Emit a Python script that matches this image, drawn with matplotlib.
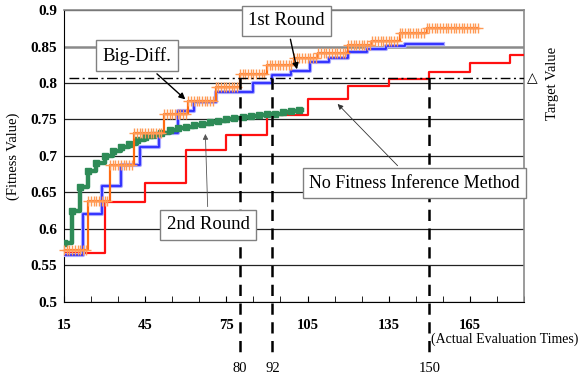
import numpy as np
import matplotlib
matplotlib.use("Agg")
import matplotlib.pyplot as plt

plt.rcParams["font.family"] = ["Liberation Serif", "DejaVu Serif"]

# step curves: (evaluation, fitness) at each step start
red_x = [15, 30, 45, 60, 75, 90, 105, 120, 135, 150, 165, 180, 185]
red_y = [0.567, 0.637, 0.663, 0.708, 0.729, 0.756, 0.778, 0.796, 0.806, 0.815, 0.828, 0.838, 0.838]

blue_x = [15, 22, 29, 36, 43, 50, 57, 63, 71, 85, 92, 99, 106, 113, 120, 127, 134, 141, 155]
blue_y = [0.564, 0.621, 0.659, 0.688, 0.713, 0.731, 0.761, 0.774, 0.787, 0.800, 0.811, 0.816,
          0.829, 0.834, 0.843, 0.846, 0.851, 0.853, 0.853]

orange_x = [15, 24, 32, 41, 52, 61, 71, 80, 90, 100, 109, 120, 129, 139, 149, 168]
orange_y = [0.571, 0.639, 0.687, 0.731, 0.758, 0.775, 0.794, 0.813, 0.824, 0.834, 0.841,
            0.852, 0.858, 0.868, 0.875, 0.875]

green_x = [15, 18, 21, 24, 27, 30, 33, 36, 39, 42, 45, 48, 51, 54, 57, 60, 63, 66, 69, 72,
           75, 78, 81, 84, 87, 90, 93, 96, 99, 102, 103]
green_y = [0.581, 0.624, 0.657, 0.679, 0.691, 0.700, 0.707, 0.713, 0.717, 0.722, 0.726, 0.729,
           0.732, 0.735, 0.738, 0.740, 0.742, 0.744, 0.746, 0.748, 0.750, 0.752, 0.753, 0.755,
           0.756, 0.757, 0.758, 0.760, 0.761, 0.763, 0.763]

target = 0.807
hit_evals = [80, 92, 150]
xtick_vals = [15, 45, 75, 105, 135, 165]
ytick_vals = [0.5, 0.55, 0.6, 0.65, 0.7, 0.75, 0.8, 0.85, 0.9]
ytick_labels = ["0.5", "0.55", "0.6", "0.65", "0.7", "0.75", "0.8", "0.85", "0.9"]

fig = plt.figure(figsize=(5.81, 3.79), dpi=100)
ax = fig.add_axes([0.1102, 0.2032, 0.7917, 0.7704])

ax.set_xlim(15, 185)
ax.set_ylim(0.5, 0.9)
ax.set_xticks(xtick_vals)
ax.set_xticks(np.arange(15, 186, 10), minor=True)
ax.set_yticks(ytick_vals)
ax.set_yticklabels(ytick_labels)
for lab in ax.get_xticklabels() + ax.get_yticklabels():
    lab.set_fontweight("bold")
ax.tick_params(axis="x", which="both", direction="in", length=4, pad=12, labelsize=10.5)
ax.tick_params(axis="y", length=0, pad=5, labelsize=11)

ax.set_axisbelow(True)
ax.yaxis.grid(True, color="#222222", lw=0.9)
glines = ax.get_ygridlines()
glines[7].set_color("#8a8a8a")
glines[7].set_linewidth(1.8)
for s in ["top", "right"]:
    ax.spines[s].set_color("#8a8a8a")
    ax.spines[s].set_linewidth(1.2)

# curves
ax.step(red_x, red_y, where="post", color="#ff1010", lw=1.6, zorder=3)
ax.step(blue_x, blue_y, where="post", color="#a8a8ff", lw=3.0, zorder=3)
ax.step(blue_x, blue_y, where="post", color="#2a2aff", lw=1.3, zorder=3)
ax.step(green_x, green_y, where="post", color="#2e8b57", lw=3.2, zorder=4)
ax.plot(green_x[:-1], green_y[:-1], "s", color="#2e8b57", ms=5, zorder=4)
ax.step(orange_x, orange_y, where="post", color="#ff6a10", lw=1.6, zorder=5)
mx = np.arange(orange_x[0], orange_x[-1] + 1)
my = np.array(orange_y)[np.searchsorted(orange_x, mx, side="right") - 1]
ax.plot(mx, my, "+", color="#ff9a55", ms=7, mew=1.0, zorder=5, clip_on=False)

# target line
ax.plot([17, 185], [target, target], color="black", lw=1.0,
        dashes=(7, 2.5, 1.5, 2.5), zorder=6)
ax.text(1.017, target, "\u25b3", transform=ax.get_yaxis_transform(), ha="center",
        va="center", fontsize=10, family=["DejaVu Sans"])
ax.text(1.062, 0.747, "Target Value", transform=ax.transAxes, rotation=90,
        ha="center", va="center", fontsize=10.5)

# evaluations where target is reached
for e in hit_evals:
    ax.plot([e, e], [target, 0.427], color="black", lw=1.8, dashes=(4.5, 3),
            clip_on=False, zorder=6)
    ax.text(e, -0.229, str(e), transform=ax.get_xaxis_transform(), ha="center",
            va="center", fontsize=10.5)

ax.set_ylabel("(Fitness Value)", fontsize=10.5)
ax.yaxis.set_label_coords(-0.095, 0.5)
ax.text(0.797, -0.126, "(Actual Evaluation Times)", transform=ax.transAxes,
        ha="left", va="center", fontsize=10)

box = dict(boxstyle="square,pad=0.35", fc="white", ec="#808080", lw=1)
ax.annotate("Big-Diff.", xy=(60.6, 0.775), xytext=(42, 0.837), ha="center", va="center",
            fontsize=13.5, bbox=box, zorder=8,
            arrowprops=dict(arrowstyle="-|>", color="black", lw=1, mutation_scale=9))
ax.annotate("1st Round", xy=(101.3, 0.815), xytext=(97.2, 0.885), ha="center", va="center",
            fontsize=13.5, bbox=box, zorder=8,
            arrowprops=dict(arrowstyle="-|>", color="black", lw=1, mutation_scale=9))
ax.annotate("No Fitness Inference Method", xy=(115.4, 0.774), xytext=(144.5, 0.663),
            ha="center", va="center", fontsize=13, bbox=box, zorder=8,
            arrowprops=dict(arrowstyle="-|>", color="#333333", lw=0.6, mutation_scale=8))
ax.annotate("2nd Round", xy=(67.2, 0.734), xytext=(68.3, 0.6055), ha="center", va="center",
            fontsize=13.5, bbox=box, zorder=8,
            arrowprops=dict(arrowstyle="-|>", color="#555555", lw=0.6, mutation_scale=8))

fig.savefig("out.png", dpi=100)
